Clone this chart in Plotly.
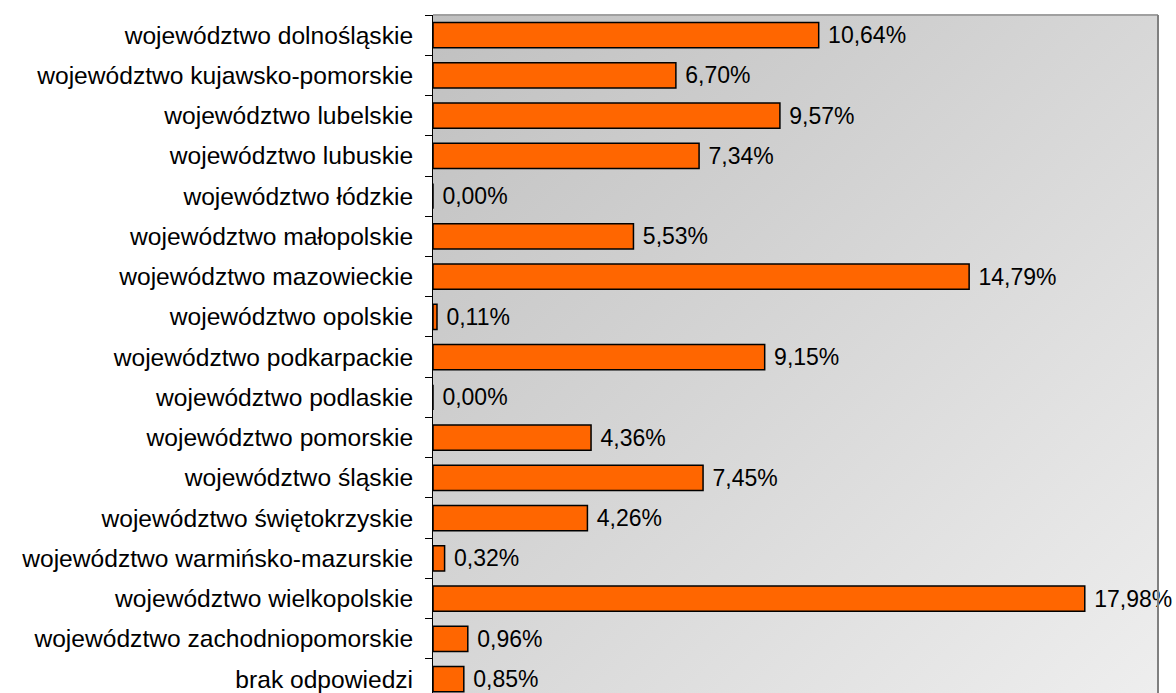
import base64
import plotly.graph_objects as go

categories = [
    "województwo dolnośląskie",
    "województwo kujawsko-pomorskie",
    "województwo lubelskie",
    "województwo lubuskie",
    "województwo łódzkie",
    "województwo małopolskie",
    "województwo mazowieckie",
    "województwo opolskie",
    "województwo podkarpackie",
    "województwo podlaskie",
    "województwo pomorskie",
    "województwo śląskie",
    "województwo świętokrzyskie",
    "województwo warmińsko-mazurskie",
    "województwo wielkopolskie",
    "województwo zachodniopomorskie",
    "brak odpowiedzi",
]
values = [10.64, 6.70, 9.57, 7.34, 0.00, 5.53, 14.79, 0.11, 9.15, 0.00,
          4.36, 7.45, 4.26, 0.32, 17.98, 0.96, 0.85]
labels = ["\u00a0" + f"{v:.2f}%".replace(".", ",") for v in values]

FONT = "Liberation Sans, Arial, sans-serif"

svg = (
    '<svg xmlns="http://www.w3.org/2000/svg" width="100" height="100" preserveAspectRatio="none">'
    '<defs><linearGradient id="g" x1="0" y1="0" x2="1" y2="1">'
    '<stop offset="0" stop-color="#C0C0C0"/><stop offset="1" stop-color="#EEEEEE"/>'
    '</linearGradient></defs><rect width="100" height="100" fill="url(#g)"/></svg>'
)
svg_uri = "data:image/svg+xml;base64," + base64.b64encode(svg.encode()).decode()

fig = go.Figure(
    go.Bar(
        y=categories,
        x=values,
        orientation="h",
        width=0.63,
        marker=dict(color="#FF6600", line=dict(color="#000000", width=1.5)),
        text=labels,
        textposition="outside",
        textfont=dict(family=FONT, size=23, color="#000000"),
        cliponaxis=False,
        constraintext="none",
        hoverinfo="skip",
    )
)

fig.update_layout(
    width=1176,
    height=693,
    margin=dict(l=433, r=18, t=15, b=0),
    paper_bgcolor="#FFFFFF",
    plot_bgcolor="#D6D6D6",
    showlegend=False,
    font=dict(family=FONT, size=24, color="#000000"),
    images=[dict(
        source=svg_uri, xref="paper", yref="paper", x=0, y=1,
        sizex=1, sizey=1, xanchor="left", yanchor="top",
        sizing="stretch", layer="below",
    )],
    shapes=[
        dict(type="line", xref="paper", yref="paper", x0=0, x1=1, y0=1, y1=1,
             line=dict(color="#A0A0A0", width=2)),
        dict(type="line", xref="paper", yref="paper", x0=1, x1=1, y0=0, y1=1,
             line=dict(color="#808080", width=2)),
    ],
)

fig.update_xaxes(range=[0, 20], visible=False, showgrid=False, zeroline=False,
                 automargin=False)
fig.update_yaxes(
    type="category",
    range=[16.345, -0.5],
    automargin=False,
    showline=True, linecolor="#000000", linewidth=1,
    ticks="outside", ticklen=7, tickcolor="#000000", tickwidth=1,
    tickson="boundaries",
    showgrid=False, zeroline=False,
    ticklabelstandoff=14,
    tickfont=dict(family=FONT, size=24.6, color="#000000"),
)

fig.write_html(
    "out.html",
    config={"displayModeBar": False},
    post_script="document.body.style.margin='0';document.body.style.overflow='hidden';",
)
